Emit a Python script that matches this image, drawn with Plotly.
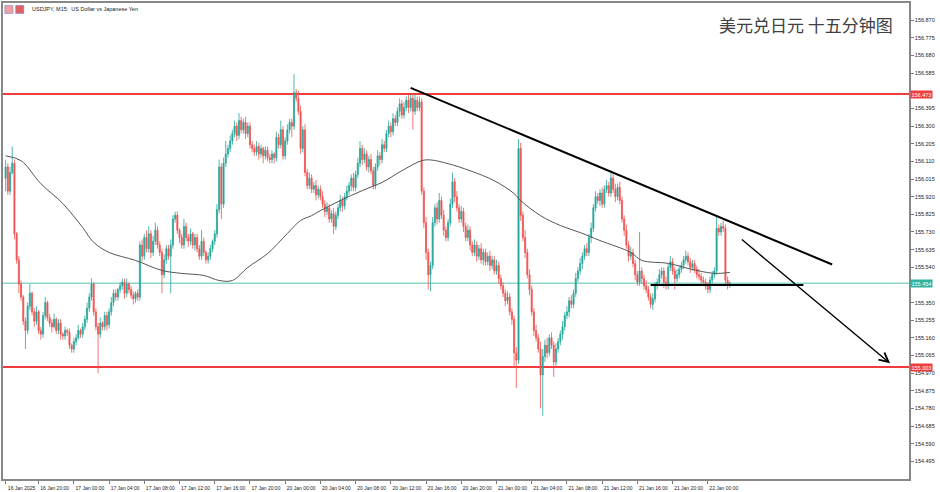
import plotly.graph_objects as go

# ---------------- data (USDJPY, M15) ----------------
open0 = 156.02
closes = [
    156.08, 155.95, 156.05, 156.10, 155.72, 155.58, 155.45, 155.38, 155.25, 155.20,
    155.33, 155.40, 155.30, 155.25, 155.30, 155.20, 155.18, 155.28, 155.35, 155.27,
    155.24, 155.22, 155.26, 155.20, 155.24, 155.18, 155.17, 155.20, 155.19, 155.12,
    155.10, 155.14, 155.16, 155.20, 155.18, 155.22, 155.26, 155.32, 155.38, 155.45,
    155.30, 155.22, 155.18, 155.24, 155.22, 155.28, 155.23, 155.30, 155.35, 155.40,
    155.38, 155.42, 155.44, 155.46, 155.40, 155.45, 155.42, 155.39, 155.37, 155.40,
    155.38, 155.66, 155.60, 155.70, 155.64, 155.72, 155.62, 155.68, 155.74, 155.66,
    155.62, 155.50, 155.58, 155.64, 155.60, 155.66, 155.80, 155.82, 155.74, 155.70,
    155.66, 155.76, 155.70, 155.68, 155.72, 155.66, 155.70, 155.64, 155.60, 155.68,
    155.62, 155.58, 155.60, 155.64, 155.68, 155.72, 155.85, 156.08, 155.88, 156.10,
    156.15, 156.18, 156.22, 156.26, 156.30, 156.25, 156.33, 156.28, 156.32, 156.26,
    156.30, 156.20, 156.18, 156.16, 156.19, 156.15, 156.18, 156.14, 156.17, 156.13,
    156.12, 156.15, 156.13, 156.24, 156.20, 156.28, 156.14, 156.22, 156.28, 156.32,
    156.30, 156.48, 156.45, 156.38, 156.18, 156.28, 156.05, 155.98, 156.02, 155.96,
    155.98, 155.93, 155.96, 155.92, 155.88, 155.84, 155.86, 155.80, 155.83, 155.76,
    155.82, 155.86, 155.90, 155.87, 155.92, 155.95, 155.98, 156.02, 155.97, 156.04,
    156.10, 156.18, 156.12, 156.15, 156.08, 156.12, 156.06, 155.98, 156.08, 156.14,
    156.12, 156.20, 156.18, 156.26, 156.30, 156.27, 156.34, 156.32, 156.38, 156.42,
    156.36, 156.40, 156.44, 156.40, 156.45, 156.38, 156.44, 156.40, 156.43, 155.95,
    155.78, 155.62, 155.50, 155.55, 155.78, 155.86, 155.80, 155.90, 155.82, 155.74,
    155.70, 155.78, 155.88, 156.00, 155.92, 155.86, 155.80, 155.84, 155.76, 155.70,
    155.74, 155.66, 155.62, 155.66, 155.60, 155.64, 155.58, 155.62, 155.57, 155.60,
    155.55, 155.58, 155.52, 155.55, 155.48, 155.44, 155.40, 155.36, 155.38, 155.30,
    155.26, 155.08, 155.04, 156.18, 155.82, 155.70, 155.62, 155.50, 155.42, 155.30,
    155.20, 155.16, 155.10, 154.96, 155.06, 155.12, 155.08, 155.16, 155.12, 155.03,
    155.10, 155.14, 155.18, 155.22, 155.28, 155.30, 155.36, 155.34, 155.40, 155.48,
    155.52, 155.56, 155.60, 155.64, 155.62, 155.70, 155.75, 155.86, 155.92, 155.90,
    155.94, 155.88, 155.96, 155.98, 155.94, 156.02, 155.96, 155.92, 155.97, 155.90,
    155.80, 155.74, 155.66, 155.60, 155.62, 155.56, 155.50, 155.46, 155.52, 155.48,
    155.44, 155.42, 155.38, 155.34, 155.37, 155.44, 155.46, 155.50, 155.52, 155.46,
    155.44, 155.54, 155.57, 155.52, 155.48, 155.50, 155.53, 155.55, 155.58, 155.60,
    155.57, 155.54, 155.56, 155.53, 155.50, 155.49, 155.47, 155.46, 155.44, 155.42,
    155.47, 155.50, 155.52, 155.75, 155.73, 155.76, 155.75, 155.47, 155.45, 155.454,
]
# upper / lower wick lengths, in pips (0.01 JPY)
wick_up = [
    4, 2, 3, 9, 2, 1, 2, 2, 1, 2,
    2, 5, 1, 2, 3, 1, 2, 2, 3, 1,
    2, 2, 3, 1, 2, 2, 1, 2, 1, 2,
    1, 2, 2, 3, 1, 2, 2, 3, 2, 3,
    1, 2, 2, 3, 1, 2, 2, 2, 3, 2,
    2, 1, 2, 2, 2, 3, 1, 2, 2, 1,
    2, 2, 3, 2, 4, 4, 2, 3, 4, 2,
    2, 2, 3, 2, 2, 3, 2, 2, 2, 1,
    2, 4, 2, 2, 3, 1, 2, 2, 2, 6,
    2, 1, 2, 2, 1, 2, 3, 4, 2, 3,
    7, 2, 3, 2, 3, 2, 4, 2, 2, 3,
    2, 2, 2, 2, 3, 2, 2, 1, 2, 2,
    2, 2, 1, 3, 2, 5, 2, 2, 3, 2,
    2, 10, 2, 4, 3, 2, 3, 2, 3, 2,
    2, 3, 2, 2, 3, 2, 3, 2, 2, 3,
    2, 2, 3, 2, 2, 3, 2, 2, 3, 2,
    3, 4, 2, 3, 2, 2, 3, 2, 2, 3,
    2, 3, 2, 2, 3, 2, 3, 2, 2, 3,
    2, 3, 2, 3, 2, 2, 3, 2, 3, 2,
    2, 3, 2, 2, 3, 2, 3, 4, 2, 3,
    2, 2, 3, 5, 2, 3, 2, 3, 2, 2,
    3, 2, 2, 3, 2, 2, 3, 2, 2, 2,
    3, 2, 2, 3, 2, 2, 2, 2, 3, 2,
    2, 2, 3, 5, 3, 2, 4, 2, 3, 2,
    2, 3, 2, 4, 4, 3, 4, 2, 3, 2,
    3, 2, 2, 3, 2, 3, 2, 3, 2, 3,
    2, 3, 2, 2, 3, 2, 3, 2, 3, 2,
    2, 3, 2, 3, 2, 4, 2, 3, 2, 3,
    2, 2, 3, 2, 3, 2, 2, 2, 21, 2,
    2, 3, 2, 2, 3, 2, 2, 3, 2, 2,
    3, 2, 3, 2, 2, 3, 2, 2, 2, 3,
    2, 2, 2, 2, 2, 3, 2, 2, 2, 2,
    2, 2, 2, 7, 2, 2, 3, 2, 2, 1,
]
wick_dn = [
    7, 2, 2, 1, 3, 2, 5, 2, 2, 10,
    2, 2, 2, 3, 2, 2, 3, 2, 2, 2,
    2, 3, 1, 2, 2, 3, 2, 2, 2, 2,
    2, 2, 2, 1, 2, 2, 2, 2, 2, 2,
    2, 2, 21, 2, 2, 2, 3, 2, 2, 2,
    2, 2, 2, 2, 3, 2, 2, 2, 3, 2,
    2, 2, 3, 2, 2, 2, 3, 2, 2, 2,
    2, 10, 2, 2, 2, 20, 2, 2, 2, 3,
    2, 2, 2, 3, 2, 2, 3, 2, 2, 2,
    2, 2, 2, 2, 2, 2, 2, 2, 8, 2,
    2, 2, 2, 2, 2, 3, 2, 2, 2, 3,
    2, 2, 2, 2, 2, 3, 2, 4, 2, 2,
    2, 2, 3, 2, 2, 2, 2, 2, 2, 2,
    6, 2, 2, 2, 3, 2, 2, 2, 2, 2,
    2, 3, 2, 2, 2, 3, 2, 2, 2, 4,
    2, 2, 2, 3, 2, 2, 2, 3, 2, 2,
    2, 2, 3, 2, 2, 3, 2, 2, 2, 2,
    3, 2, 2, 2, 2, 3, 2, 2, 2, 3,
    2, 2, 2, 3, 2, 10, 2, 2, 2, 2,
    3, 4, 8, 9, 2, 2, 3, 2, 2, 3,
    2, 2, 2, 2, 3, 2, 2, 2, 3, 2,
    2, 3, 2, 2, 3, 2, 2, 3, 2, 2,
    3, 2, 2, 2, 3, 2, 2, 3, 2, 2,
    3, 8, 15, 2, 3, 2, 3, 2, 3, 2,
    3, 2, 2, 18, 22, 3, 3, 2, 2, 8,
    2, 2, 2, 3, 2, 2, 3, 2, 2, 2,
    2, 2, 3, 2, 2, 2, 3, 2, 2, 2,
    3, 2, 2, 2, 2, 2, 2, 3, 2, 2,
    2, 3, 2, 3, 2, 2, 3, 2, 2, 3,
    2, 2, 2, 2, 3, 2, 2, 2, 2, 3,
    2, 2, 2, 2, 6, 2, 2, 2, 2, 2,
    2, 3, 2, 2, 2, 2, 2, 2, 2, 2,
    2, 2, 2, 2, 2, 2, 2, 2, 3, 2,
]

# moving average (read at selected bars)
ma_idx = [0, 7, 16, 26, 35, 40, 47, 59, 71, 80, 90, 97, 103, 110, 119, 128, 134, 139,
          143, 152, 162, 171, 180, 189, 193, 201, 211, 222, 231, 234, 243, 252, 261,
          270, 284, 289, 301, 310, 316, 322, 329]
ma_val = [156.140, 156.114, 155.990, 155.883, 155.754, 155.674, 155.620, 155.577,
          155.523, 155.507, 155.496, 155.469, 155.469, 155.539, 155.614, 155.722,
          155.792, 155.818, 155.845, 155.899, 155.953, 155.997, 156.060, 156.114,
          156.118, 156.098, 156.060, 156.006, 155.937, 155.899, 155.818, 155.765,
          155.727, 155.684, 155.620, 155.577, 155.561, 155.534, 155.518, 155.507,
          155.512]

# x-axis labels (bar index -> time label)
tick_idx = [0, 15, 31, 47, 63, 79, 95, 111, 127, 143, 159, 175, 191, 207, 223, 239,
            255, 271, 287, 303, 319]
tick_txt = ["16 Jan 2025", "16 Jan 20:00", "17 Jan 00:00", "17 Jan 04:00",
            "17 Jan 08:00", "17 Jan 12:00", "17 Jan 16:00", "17 Jan 20:00",
            "20 Jan 00:00", "20 Jan 04:00", "20 Jan 08:00", "20 Jan 12:00",
            "20 Jan 16:00", "20 Jan 20:00", "21 Jan 00:00", "21 Jan 04:00",
            "21 Jan 08:00", "21 Jan 12:00", "21 Jan 16:00", "21 Jan 20:00",
            "22 Jan 00:00"]
# price scale labels (156.490 and 155.445 sit under the price tags)
price_ticks = [154.495, 154.590, 154.685, 154.780, 154.875, 154.970, 155.065,
               155.160, 155.255, 155.350, 155.540, 155.635, 155.730,
               155.825, 155.920, 156.015, 156.110, 156.205, 156.300, 156.395,
               156.585, 156.680, 156.775, 156.870]

# levels and drawn lines
resistance = 156.473
support = 155.003
bid = 155.454
trend_x = [184, 375.5]
trend_y = [156.506, 155.555]
base_x = [293, 362.4]
base_y = [155.445, 155.445]
arrow_from = (333.8, 155.696)
arrow_to = (401.8, 155.023)

# ---------------- build ----------------
n = len(closes)
xs = list(range(n))
opens = [open0] + closes[:-1]
highs = [max(o, c) + u * 0.01 for o, c, u in zip(opens, closes, wick_up)]
lows = [min(o, c) - d * 0.01 for o, c, d in zip(opens, closes, wick_dn)]

UP = "#26A69A"
DN = "#EF5350"
RED = "#F03C3C"
FONT = "Liberation Sans, Arial, sans-serif"

fig = go.Figure()

fig.add_trace(go.Candlestick(
    x=xs, open=opens, high=highs, low=lows, close=closes,
    increasing=dict(line=dict(color=UP, width=0.8), fillcolor=UP),
    decreasing=dict(line=dict(color=DN, width=0.8), fillcolor=DN),
    whiskerwidth=0, showlegend=False, hoverinfo="skip",
))

fig.add_trace(go.Scatter(
    x=ma_idx, y=ma_val, mode="lines",
    line=dict(color="#555555", width=1, shape="spline", smoothing=1),
    showlegend=False, hoverinfo="skip",
))

fig.add_trace(go.Scatter(x=trend_x, y=trend_y, mode="lines",
                         line=dict(color="#000000", width=2), showlegend=False, hoverinfo="skip"))
fig.add_trace(go.Scatter(x=base_x, y=base_y, mode="lines",
                         line=dict(color="#000000", width=2), showlegend=False, hoverinfo="skip"))

x_lo, x_hi = -1.2, 410.4
y_lo, y_hi = 154.400, 156.963

for lvl, col, w in [(resistance, RED, 2), (support, RED, 2), (bid, "#8ED6CC", 1.4)]:
    fig.add_shape(type="line", xref="paper", x0=0, x1=1, yref="y", y0=lvl, y1=lvl,
                  line=dict(color=col, width=w), layer="below")

fig.add_annotation(x=arrow_to[0], y=arrow_to[1], ax=arrow_from[0], ay=arrow_from[1],
                   xref="x", yref="y", axref="x", ayref="y", text="",
                   showarrow=True, arrowhead=5, arrowsize=1.3, arrowwidth=1.4,
                   arrowcolor="#000000")

# price tags on the right axis
for lvl, col, txt in [(resistance, RED, "156.473"), (bid, "#2DB3A0", "155.454"),
                      (support, RED, "155.003")]:
    fig.add_annotation(xref="paper", x=1, xanchor="left", xshift=1, yref="y", y=lvl,
                       text=txt, showarrow=False, bgcolor=col, borderpad=0.5,
                       font=dict(family=FONT, size=5.5, color="white"))

fig.add_annotation(xref="paper", yref="paper", x=0.0297, y=0.987, xanchor="left",
                   yanchor="middle", text="USDJPY, M15:  US Dollar vs Japanese Yen",
                   showarrow=False, font=dict(family=FONT, size=5.5, color="#222222"))
fig.add_annotation(xref="paper", yref="paper", x=0.9846, y=0.954, xanchor="right",
                   yanchor="middle", text="美元兑日元 十五分钟图", showarrow=False,
                   font=dict(family="Noto Sans CJK SC", size=17, color="#404040"))

# tiny symbol icons (top-left)
fig.add_shape(type="rect", xref="paper", yref="paper", x0=0.002, x1=0.011,
              y0=0.978, y1=0.995, fillcolor="#F2A0A0", line=dict(color="#7090D0", width=0.6))
fig.add_shape(type="rect", xref="paper", yref="paper", x0=0.014, x1=0.023,
              y0=0.978, y1=0.995, fillcolor="#E06060", line=dict(color="#7090D0", width=0.6))

fig.update_layout(
    width=940, height=492,
    margin=dict(l=1, r=31, t=2, b=13),
    paper_bgcolor="white", plot_bgcolor="white",
    font=dict(family=FONT, size=5.5, color="#222222"),
    hovermode=False,
    xaxis=dict(range=[x_lo, x_hi], rangeslider=dict(visible=False),
               tickmode="array", tickvals=tick_idx, ticktext=tick_txt,
               ticks="outside", ticklen=3, tickcolor="#777777",
               tickfont=dict(size=5, family=FONT, color="#222222"),
               ticklabelshift=16, ticklabelstandoff=0,
               showgrid=False, zeroline=False,
               showline=True, linecolor="#888888", linewidth=1.5, mirror=True),
    yaxis=dict(range=[y_lo, y_hi], side="right",
               tickmode="array", tickvals=price_ticks,
               ticktext=[f"{v:.3f}" for v in price_ticks],
               ticks="outside", ticklen=3, tickcolor="#777777",
               tickfont=dict(size=5.5, family=FONT, color="#222222"),
               showgrid=False, zeroline=False,
               showline=True, linecolor="#888888", linewidth=1.5, mirror=True),
)

fig.write_html("out.html",
               config={"displayModeBar": False, "displaylogo": False},
               post_script="document.body.style.margin='0px';document.body.style.overflow='hidden';")
